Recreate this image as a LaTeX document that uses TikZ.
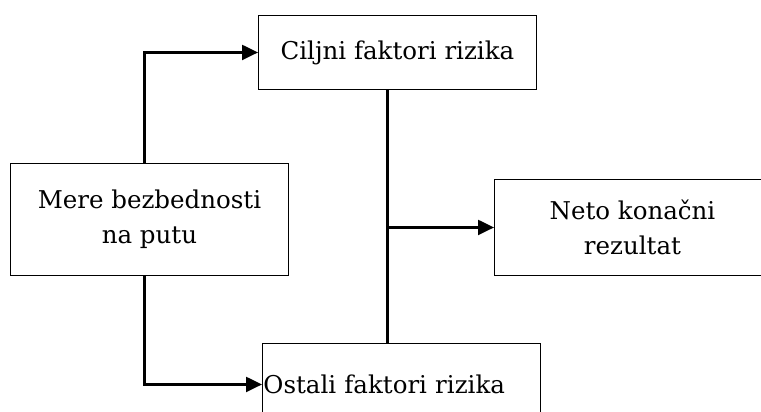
\documentclass[tikz,border=0pt]{standalone}
\usepackage{fontspec}
\setmainfont{DejaVu Serif}
\usetikzlibrary{arrows.meta,calc}
\begin{document}
\begin{tikzpicture}[x=1pt,y=1pt,
  box/.style={draw,line width=0.9pt,inner sep=0pt,align=center,
    font=\fontsize{24.5}{35}\selectfont},
  link/.style={line width=2.2pt},
  arr/.style={link,-{Triangle[length=16pt,width=15pt]}}]
\useasboundingbox (0,0) rectangle (761,-412);
\begin{scope}
\clip (0,0) rectangle (761,-412);
\node[box,anchor=north west,minimum width=278pt,minimum height=74pt] (ciljni) at (258,-15) {Ciljni faktori rizika};
\node[box,anchor=north west,minimum width=278pt,minimum height=112pt] (mere) at (10,-163) {Mere bezbednosti\\na putu};
\node[box,anchor=north west,minimum width=276pt,minimum height=96pt] (neto) at (494,-179) {Neto konačni\\rezultat};
\node[box,anchor=north west,text width=276pt,align=left,inner xsep=1pt,minimum height=82pt] (ostali) at (262,-343) {Ostali faktori rizika};
\coordinate (trunk) at ([xshift=-10pt]ciljni.south);
\draw[link] (trunk) -- (trunk |- ostali.north);
\draw[arr] (trunk |- neto.west) -- (neto.west);
\draw[arr] ([xshift=-5pt]mere.north) |- (ciljni.west);
\draw[arr] ([xshift=-5pt]mere.south) |- (ostali.west);
\end{scope}
\end{tikzpicture}
\end{document}
